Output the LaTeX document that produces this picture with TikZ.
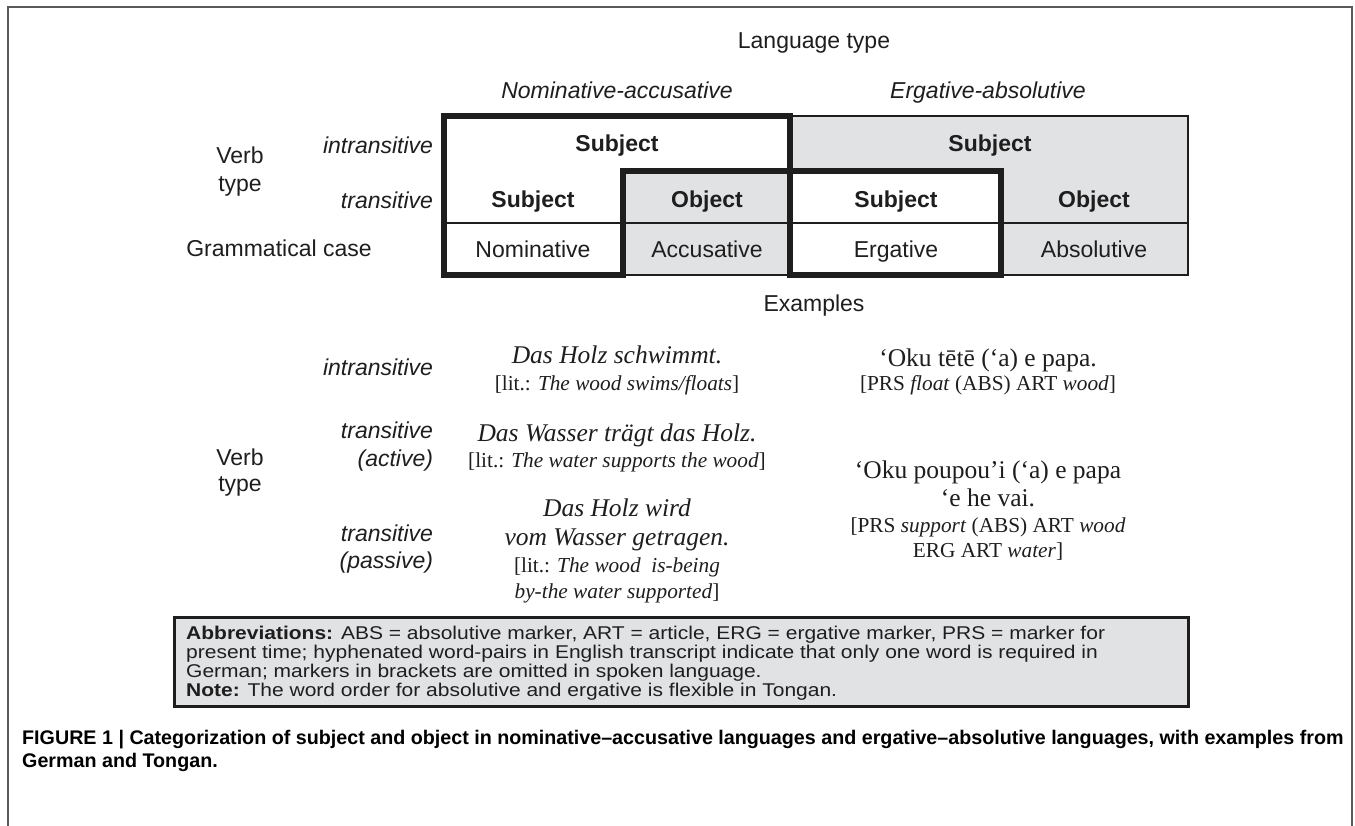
\documentclass[tikz,border=0pt]{standalone}
\usepackage{fontspec}
\setmainfont{Liberation Serif}
\newfontfamily\arialf{Liberation Sans}
\definecolor{cellgray}{HTML}{E1E2E4}
\definecolor{framecol}{HTML}{5A5A5A}
\definecolor{inkcol}{HTML}{1E1E1E}
\tikzset{
  lab/.style={inner sep=0pt, outer sep=0pt, anchor=base, text=inkcol},
  sans/.style={lab, font=\arialf\fontsize{23}{27}\selectfont},
  sansit/.style={lab, font=\arialf\itshape\fontsize{23}{27}\selectfont},
  sansbf/.style={lab, font=\arialf\bfseries\fontsize{23}{27}\selectfont},
  serbig/.style={lab, font=\fontsize{25.5}{28}\selectfont},
  sersmall/.style={lab, font=\fontsize{21.3}{24}\selectfont},
  thick6/.style={line width=6pt, draw=inkcol, line join=miter},
  thin2/.style={line width=1.6pt, draw=inkcol},
}
\begin{document}
\begin{tikzpicture}[x=1pt,y=-1pt]
\useasboundingbox (0,0) rectangle (1355,825);
\fill[white] (0,0) rectangle (1355,825);
% outer frame
\draw[framecol, line width=1.6pt] (8,826) -- (8,7) -- (1352,7) -- (1352,826);

% headers
\node[sans] (langtype) at (814,48) {Language type};
\node[sansit] (nomacc) at (617,98) {Nominative-accusative};
\node[sansit] (ergabs) at (988,98) {Ergative-absolutive};

% table fills
\fill[cellgray] (622,170) rectangle (792,275);
\fill[cellgray] (792,116) rectangle (1188,170);
\fill[cellgray] (1000,170) rectangle (1188,275);
% thin lines
\draw[thin2] (443,223) -- (1188,223);
\draw[thin2] (792,116) -- (1188,116) -- (1188,275) -- (622,275);
% thick outlines
\draw[thick6] (444,116) -- (790,116) -- (790,171) -- (623,171) -- (623,275) -- (444,275) -- cycle;
\draw[thick6] (790,171) rectangle (1001,275);

% row labels (table)
\node[sans] (verb1) at (240,163) {Verb};
\node[sans] (type1) at (240,191) {type};
\node[sansit, anchor=base east] (intr1) at (433,153) {intransitive};
\node[sansit, anchor=base east] (tr1) at (433,208) {transitive};
\node[sans] (gramcase) at (279,256) {Grammatical case};

% cells
\node[sansbf] (nsubj) at (617,151) {Subject};
\node[sansbf] (ntsubj) at (533,207) {Subject};
\node[sansbf] (ntobj) at (707,207) {Object};
\node[sans] (nomin) at (533,257) {Nominative};
\node[sans] (accus) at (707,257) {Accusative};
\node[sansbf] (esubj) at (990,151) {Subject};
\node[sansbf] (etsubj) at (896,207) {Subject};
\node[sansbf] (etobj) at (1094,207) {Object};
\node[sans] (ergat) at (896,257) {Ergative};
\node[sans] (absol) at (1094,257) {Absolutive};

% examples
\node[sans] (examples) at (814,311) {Examples};
\node[sansit, anchor=base east] (intr2) at (433,375) {intransitive};
\node[sansit, anchor=base east] (tr2a) at (433,438) {transitive};
\node[sansit, anchor=base east] (tr2b) at (433,466) {(active)};
\node[sans] (verb2) at (240,465) {Verb};
\node[sans] (type2) at (240,491) {type};
\node[sansit, anchor=base east] (tr3a) at (433,541) {transitive};
\node[sansit, anchor=base east] (tr3b) at (433,568) {(passive)};

\node[serbig] (g1) at (617,363) {\itshape Das Holz schwimmt.};
\node[sersmall] (g1l) at (617,390) {[lit.: \textit{The wood swims/floats}]};
\node[serbig] (g2) at (617,441) {\itshape Das Wasser trägt das Holz.};
\node[sersmall] (g2l) at (617,467) {[lit.: \textit{The water supports the wood}]};
\node[serbig] (g3a) at (617,516) {\itshape Das Holz wird};
\node[serbig] (g3b) at (617,545) {\itshape vom Wasser getragen.};
\node[sersmall] (g3c) at (617,572) {[lit.: \textit{The wood\ \ is-being}};
\node[sersmall] (g3d) at (617,598) {\textit{by-the water supported}]};

\node[serbig] (t1) at (988,366) {‘Oku tētē (‘a) e papa.};
\node[sersmall] (t1l) at (988,390) {[PRS \textit{float} (ABS) ART \textit{wood}]};
\node[serbig] (t2a) at (988,478) {‘Oku poupou’i (‘a) e papa};
\node[serbig] (t2b) at (988,506) {‘e he vai.};
\node[sersmall] (t2c) at (988,532) {[PRS \textit{support} (ABS) ART \textit{wood}};
\node[sersmall] (t2d) at (988,557) {ERG ART \textit{water}]};

% abbreviations box
\node[draw=inkcol, line width=3pt, fill=cellgray, minimum width=1014pt, minimum height=89pt, anchor=north west, inner sep=0pt] (abbrbox) at (173,616) {};
\node[anchor=north west, inner sep=0pt, text=inkcol] (abbrtext) at (186,626)
{\scalebox{1}[0.88]{\parbox{990pt}{\arialf\fontsize{21}{21.6}\selectfont
\textbf{Abbreviations:} ABS = absolutive marker, ART = article, ERG = ergative marker, PRS = marker for\\
present time; hyphenated word-pairs in English transcript indicate that only one word is required in\\
German; markers in brackets are omitted in spoken language.\\
\textbf{Note:} The word order for absolutive and ergative is flexible in Tongan.}}};

% caption
\node[anchor=base west, inner sep=0pt, align=left, text=black, font=\arialf\bfseries\fontsize{19.7}{23}\selectfont] (caption) at (22,767)
{FIGURE 1 | Categorization of subject and object in nominative–accusative languages and ergative–absolutive languages, with examples from\\
German and Tongan.};
\end{tikzpicture}
\end{document}
